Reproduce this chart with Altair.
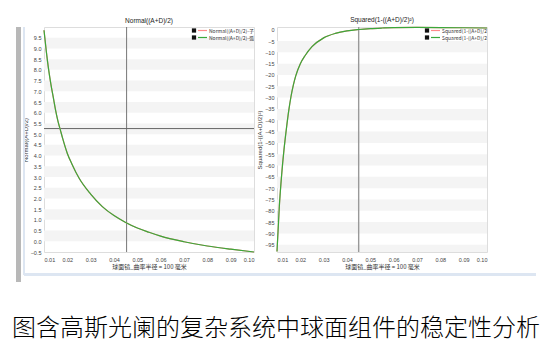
import altair as alt
import pandas as pd

# ---- data ----
x_vals = [0.010, 0.011, 0.012, 0.013, 0.014, 0.015, 0.016, 0.017, 0.018, 0.020,
          0.022, 0.025, 0.030, 0.035, 0.040, 0.045, 0.050, 0.055, 0.060, 0.070,
          0.080, 0.090, 0.100]
normal_vals = [9.85, 8.85, 8.0, 7.3, 6.7, 6.1, 5.6, 5.2, 4.8, 4.1,
               3.6, 2.95, 2.2, 1.62, 1.2, 0.88, 0.62, 0.42, 0.24, -0.02,
               -0.22, -0.37, -0.5]
squared_vals = [-98, -78, -64, -53, -44, -36, -29.5, -24.5, -20.5, -15,
                -11.5, -7.5, -3.6, -1.6, -0.5, 0.1, 0.5, 0.75, 0.93, 1.0,
                0.95, 0.86, 0.75]

x_ticks = [0.01, 0.02, 0.03, 0.04, 0.05, 0.06, 0.07, 0.08, 0.09, 0.10]
normal_ticks = [-0.5 + 0.5 * i for i in range(21)]
squared_ticks = [-95 + 5 * i for i in range(20)]
normal_bands = [float(k) for k in range(0, 10)]          # grey band [k, k+0.5]
squared_bands = [-100 + 10 * k for k in range(10)]       # grey band [b, b+5]

cursor_x = [0.0454]
cursor_y_normal = [5.26]
cursor_x_sq = [0.045]

normal_title = "Normal((A+D)/2)"
squared_title = "Squared(1-((A+D)/2)²)"
x_title = "球面镜_曲率半径 = 100 毫米"
legend_normal = ["Normal((A+D)/2)-子午", "Normal((A+D)/2)-弧矢"]
legend_squared = ["Squared(1-((A+D)/2)²)-子午", "Squared(1-((A+D)/2)²)-弧矢"]
legend_colors = ["#ff8a8a", "#3aa83a"]
caption = "图含高斯光阑的复杂系统中球面组件的稳定性分析"

W, H = 210, 225
FONT = "Liberation Sans"
CJK = "Noto Sans CJK SC"
GREEN = "#3aa83a"


def panel(yvals, ydomain, yticks, bands, band_w, ytitle, title, cx, cy, legend_labels,
          is_left):
    df = pd.DataFrame({"x": x_vals, "y": yvals})
    xs = alt.Scale(domain=[0.01, 0.10], nice=False, zero=False)
    ys = alt.Scale(domain=ydomain, nice=False, zero=False)
    xaxis = alt.Axis(values=x_ticks, format=".2f", title=x_title, labelFontSize=5.5,
                     titleFontSize=6, titleFontWeight="normal", labelColor="#444",
                     titleColor="#333", ticks=False, domain=False, grid=False,
                     labelPadding=5, titlePadding=1, labelFont=FONT, labelOverlap=False,
                     titleFont=CJK)
    yaxis = alt.Axis(values=yticks, format=".1f" if band_w == 0.5 else "d", title=ytitle,
                     labelFontSize=5.5, titleFontSize=6, titleFontWeight="normal",
                     labelColor="#444", titleColor="#333", ticks=False, domain=False,
                     grid=False, labelPadding=3, titlePadding=2, labelFont=FONT,
                     labelOverlap=False, labelFlush=False, titleFont=FONT)
    bdf = pd.DataFrame({"lo": bands, "hi": [b + band_w for b in bands]})
    stripes = alt.Chart(bdf).mark_rect(color="#f4f4f4", clip=True).encode(
        y=alt.Y("lo:Q", scale=ys, axis=yaxis), y2="hi:Q")
    vline = alt.Chart(pd.DataFrame({"x": cx})).mark_rule(
        color="#777" if is_left else "#999", strokeWidth=1 if is_left else 1.4).encode(
        x=alt.X("x:Q", scale=xs, axis=xaxis))
    layers = [stripes, vline]
    if cy is not None:
        hline = alt.Chart(pd.DataFrame({"y": cy})).mark_rule(color="#666", strokeWidth=1).encode(
            y=alt.Y("y:Q", scale=ys, axis=yaxis))
        layers.append(hline)
    red = alt.Chart(df).mark_line(color=legend_colors[0], strokeWidth=1.2, interpolate="monotone").encode(
        x=alt.X("x:Q", scale=xs, axis=xaxis), y=alt.Y("y:Q", scale=ys, axis=yaxis))
    green = alt.Chart(df).mark_line(color=GREEN, strokeWidth=1.2, interpolate="monotone").encode(
        x=alt.X("x:Q", scale=xs, axis=xaxis), y=alt.Y("y:Q", scale=ys, axis=yaxis))
    layers += [red, green]
    # custom in-plot legend (top right)
    ldf = pd.DataFrame({"label": legend_labels})
    lx = W - 60
    for i in range(2):
        yy = 3.5 + 7 * i
        one = alt.Chart(ldf.iloc[[i]])
        layers.append(one.mark_square(color="#111", size=18, opacity=1).encode(
            x=alt.value(lx), y=alt.value(yy)))
        layers.append(one.mark_rule(color=legend_colors[i], strokeWidth=1.2).encode(
            x=alt.value(lx + 4), x2=alt.value(lx + 13), y=alt.value(yy)))
        layers.append(one.mark_text(align="left", baseline="middle", fontSize=5,
                                    color="#333", clip=True, font=CJK).encode(
            x=alt.value(lx + 15), y=alt.value(yy), text="label:N"))
    # window frame decoration (screenshot border)
    deco = alt.Chart(ldf.iloc[[0]])
    if is_left:
        layers.append(deco.mark_rect(color="#b8b8b8").encode(
            x=alt.value(-28), x2=alt.value(-23), y=alt.value(0), y2=alt.value(255)))
        layers.append(deco.mark_rect(color="#dde6f2").encode(
            x=alt.value(-21), x2=alt.value(-19), y=alt.value(0), y2=alt.value(248)))
        layers.append(deco.mark_rect(color="#dde6f2").encode(
            x=alt.value(-20), x2=alt.value(233), y=alt.value(246), y2=alt.value(249)))
    else:
        layers.append(deco.mark_rect(color="#dde6f2").encode(
            x=alt.value(-45), x2=alt.value(259), y=alt.value(246), y2=alt.value(249)))
    return alt.layer(*layers).properties(
        width=W, height=H,
        title=alt.TitleParams(title, fontSize=6.5, fontWeight="normal", color="#222",
                              font=FONT, offset=2))


left = panel(normal_vals, [-0.5, 10], normal_ticks, normal_bands, 0.5,
             normal_title, normal_title, cursor_x, cursor_y_normal, legend_normal, True)
right = panel(squared_vals, [-98.2, 1.2], squared_ticks, squared_bands, 5,
              squared_title, squared_title, cursor_x_sq, None, legend_squared, False)

chart = alt.hconcat(left, right, spacing=23, bounds="flush").properties(
    padding={"left": 12, "top": 16, "right": 0, "bottom": 0},
    title=alt.TitleParams(caption, orient="bottom", fontSize=24, fontWeight=300,
                          font=CJK, color="#000", offset=34, anchor="middle"),
).configure_view(stroke="#c9a887", strokeWidth=1.2).configure(background="white")

chart.save("out.html", embed_options={"renderer": "svg", "actions": False})
